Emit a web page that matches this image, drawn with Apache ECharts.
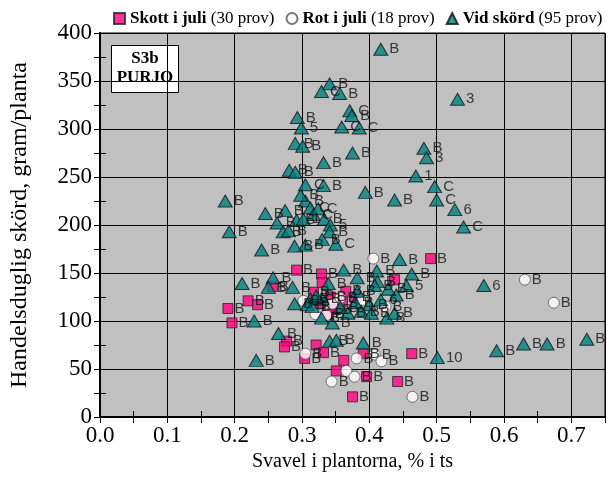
<!DOCTYPE html>
<html><head><meta charset="utf-8">
<script src="https://cdn.jsdelivr.net/npm/echarts@6/dist/echarts.min.js"></script>
<style>html,body{margin:0;padding:0;background:#fff}#c{width:609px;height:477px}</style>
</head><body><div id="c"></div>
<script>
// ---- Data ----
var seriesNames = ['Skott i juli', 'Rot i juli', 'Vid skörd'];
var seriesCounts = ['(30 prov)', '(18 prov)', '(95 prov)'];
var xTicks = ['0.0','0.1','0.2','0.3','0.4','0.5','0.6','0.7'];

var skottX = [0.292,0.329,0.330,0.256,0.190,0.220,0.234,0.196,0.277,0.274,0.304,0.321,0.332,0.362,0.391,0.351,0.396,0.442,0.375,0.463,0.491,0.4375,0.327,0.360,0.342,0.350,0.317,0.365,0.339,0.379];
var skottY = [153,149,140,136,113,121,117,98,79,73,61,75,67,59,66,48,42,37,21,66,165,143,118,120,125,112,130,131,107,125];
var skottLab = ['B','B','','B','B','B','B','B','B','B','B','','B','','B','','B','B','B','B','B','','','','B','B','B','B','B','B'];

var rotX = [0.406,0.302,0.345,0.390,0.336,0.631,0.674,0.305,0.381,0.408,0.418,0.366,0.378,0.344,0.464,0.357,0.424,0.320];
var rotY = [165,121,118,122,106,143,119,66,61,65,58,48,42,37,21,124,115,107];
var rotLab = ['B','B','','','','B','B','B','B','B','B','','B','B','B','B','B',''];

var vidX = [0.417,0.341,0.329,0.356,0.371,0.374,0.359,0.385,0.531,0.481,0.485,0.469,0.497,0.500,0.527,0.540,0.394,0.4375,0.375,0.332,
            0.332,0.293,0.299,0.290,0.301,0.281,0.290,0.305,0.186,0.305,0.3125,0.317,0.2455,0.275,0.263,0.272,0.280,0.292,0.302,0.333,
            0.342,0.341,0.330,0.350,0.305,0.289,0.192,0.240,0.211,0.257,0.250,0.286,0.362,0.339,0.382,0.411,0.412,0.408,0.463,0.455,
            0.445,0.382,0.440,0.289,0.3125,0.330,0.308,0.400,0.417,0.315,0.329,0.345,0.368,0.388,0.403,0.426,0.4375,0.229,0.265,0.341,
            0.351,0.391,0.232,0.501,0.570,0.589,0.629,0.664,0.723,0.321,0.357,0.379,0.428,0.324,0.298];
var vidY = [383,347,339,337,319,314,302,301,331,280,270,251,240,226,216,198,234,226,275,265,
            241,312,301,285,282,257,255,242,225,225,218,211,212,215,202,193,194,205,206,206,
            200,193,185,180,179,178,193,174,139,145,135,135,153,139,145,152,141,137,149,137,
            164,131,127,118,123,123,117,117,122,115,103,98,108,110,108,103,108,100,87,79,
            80,77,59,62,137,69,76,76,81,126,114,119,133,217,231];
var vidLab = ['B','B','C','B','C','B','C','C','3','B','3','1','C','C','6','C','B','B','B','B',
              'B','B','5','B','B','B','B','C','B','B','C','C','B','B','B','B','B','B','1','B',
              '5','B','B','C','B','B','B','B','B','B','B','B','B','B','B','B','B','B','B','5',
              'B','B','B','B','B','B','B','B','6','B','B','B','B','B','B','B','B','B','B','B',
              'B','B','B','10','6','B','B','B','B','B','B','B','B','C','B'];

function build(xs, ys, labs){ return xs.map(function(x,i){ return {value:[x, ys[i]], lab: labs[i]}; }); }

var labelStyle = {show:true, position:'right', distance:1, fontFamily:'Liberation Sans, Arial, sans-serif', fontSize:15, color:'#111',
  formatter: function(p){ return p.data.lab; }};

var serif = 'Liberation Serif, Times New Roman, serif';
var chart = echarts.init(document.getElementById('c'), null, {renderer:'canvas'});
var option = {
  animation:false,
  backgroundColor:'#fff',
  grid:{left:100, right:4, top:33, bottom:55, show:true, backgroundColor:'#c0c0c0', borderColor:'#000', borderWidth:1},
  legend:{
    left:108, top:5, width:501, padding:[5,0,5,5], itemWidth:11, itemHeight:11, itemGap:11,
    data:[{name:seriesNames[0], icon:'rect'},{name:seriesNames[1], icon:'circle'},{name:seriesNames[2], icon:'triangle'}],
    formatter:function(n){ var i=seriesNames.indexOf(n); return '{b|'+n+'} {n|'+seriesCounts[i]+'}'; },
    textStyle:{fontFamily:serif, fontSize:17, color:'#000',
      rich:{b:{fontFamily:serif, fontWeight:'bold', fontSize:17, color:'#000'}, n:{fontFamily:serif, fontSize:17, color:'#000'}}}
  },
  xAxis:[{
    type:'value', min:0, max:0.75, interval:0.1,
    name:'Svavel i plantorna, % i ts', nameLocation:'middle', nameGap:35,
    nameTextStyle:{fontFamily:serif, fontSize:20, color:'#000'},
    axisLine:{show:true, lineStyle:{color:'#000', width:2}},
    axisTick:{show:true, inside:true, length:6, lineStyle:{color:'#000'}},
    minorTick:{show:true, splitNumber:2, length:6, lineStyle:{color:'#000'}},
    axisLabel:{fontFamily:serif, fontSize:23, color:'#000', margin:7,
      formatter:function(v){ var i=Math.round(v*10); return (Math.abs(v*10-i)<1e-6 && i<xTicks.length) ? xTicks[i] : ''; }},
    splitLine:{show:true, lineStyle:{color:'#000', width:1}}
  },{
    type:'value', min:0, max:0.75, interval:0.1, position:'top',
    axisLine:{show:true, lineStyle:{color:'#000', width:1}},
    axisTick:{show:true, inside:true, length:6, lineStyle:{color:'#000'}},
    minorTick:{show:true, splitNumber:2, length:6, lineStyle:{color:'#000'}},
    axisLabel:{show:false}, splitLine:{show:false}
  }],
  yAxis:[{
    type:'value', min:0, max:400, interval:50,
    name:'Handelsduglig skörd, gram/planta', nameLocation:'middle', nameGap:68,
    nameTextStyle:{fontFamily:serif, fontSize:24, color:'#000'},
    axisLine:{show:true, lineStyle:{color:'#000', width:2}},
    axisTick:{show:true, inside:true, length:6, lineStyle:{color:'#000'}},
    minorTick:{show:true, splitNumber:2, length:6, lineStyle:{color:'#000'}},
    axisLabel:{fontFamily:serif, fontSize:23, color:'#000', margin:8},
    splitLine:{show:true, lineStyle:{color:'#000', width:1}}
  },{
    type:'value', min:0, max:400, interval:50, position:'right',
    axisLine:{show:true, lineStyle:{color:'#000', width:1}},
    axisTick:{show:true, inside:true, length:6, lineStyle:{color:'#000'}},
    minorTick:{show:true, splitNumber:2, length:6, lineStyle:{color:'#000'}},
    axisLabel:{show:false}, splitLine:{show:false}
  }],
  graphic:[{
    type:'group', left:111, top:45, children:[
      {type:'rect', shape:{x:0,y:0,width:67,height:47}, style:{fill:'#fff', stroke:'#000', lineWidth:1}},
      {type:'text', style:{x:33.5, y:5, text:'S3b', textAlign:'center', font:'bold 17px '+serif, fill:'#000'}},
      {type:'text', style:{x:33.5, y:24, text:'PURJO', textAlign:'center', font:'bold 17px '+serif, fill:'#000'}}
    ]
  }],
  series:[
    {name:seriesNames[0], type:'scatter', symbol:'rect', symbolSize:10, data:build(skottX, skottY, skottLab),
     itemStyle:{color:'#ff0080', borderColor:'#222', borderWidth:1}, label:labelStyle},
    {name:seriesNames[1], type:'scatter', symbol:'circle', symbolSize:11, data:build(rotX, rotY, rotLab),
     itemStyle:{color:'#ffffff', borderColor:'#555', borderWidth:1}, label:labelStyle},
    {name:seriesNames[2], type:'scatter', symbol:'triangle', symbolSize:[14,12], data:build(vidX, vidY, vidLab),
     itemStyle:{color:'#008080', borderColor:'#111', borderWidth:1}, label:labelStyle}
  ]
};
chart.setOption(option);
</script>
</body></html>
